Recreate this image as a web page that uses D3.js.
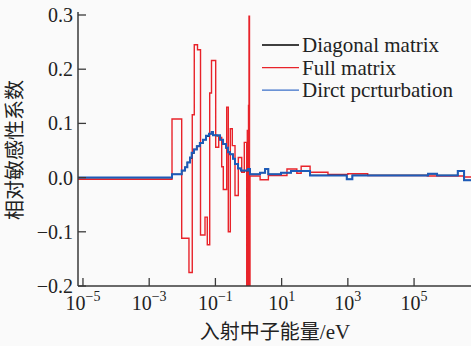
<!DOCTYPE html>
<html><head><meta charset="utf-8">
<script src="https://cdn.jsdelivr.net/npm/d3@7"></script>
<style>
html,body{margin:0;padding:0;background:#fafafa;}
svg{display:block;}
</style></head>
<body><svg id="c" width="471" height="346"></svg>
<script>
// ---- data (bin edges in eV, per-bin relative sensitivity) ----
const xTickExps = [-5, -3, -1, 1, 3, 5];
const yTicks = [-0.2, -0.1, 0.0, 0.1, 0.2, 0.3];
const yTickLabels = ["−0.2", "−0.1", "0.0", "0.1", "0.2", "0.3"];
const legendNames = ["Diagonal matrix", "Full matrix", "Dirct pcrturbation"];

const redEdges = [7e-6, 4.89e-3, 9.59e-3, 1.59e-2, 2.0e-2, 2.3e-2, 2.88e-2, 3.55e-2, 4.85e-2, 5.69e-2,
  6.73e-2, 7.62e-2, 0.102, 0.126, 0.155, 0.173, 0.219, 0.245, 0.282, 0.324,
  0.391, 0.492, 0.624, 0.746, 0.883, 0.92, 0.96, 1.0, 1.035, 1.07,
  1.11, 2.24, 3.98, 14.5, 28.8, 38.9, 72.4, 251, 1000, 3980,
  2.51e4, 2.51e5, 3.16e6, 5.62e6];
const redValues = [-0.003, 0.108, -0.112, -0.175, 0.116, 0.245, 0.236, -0.106, -0.073, -0.124,
  0.156, 0.216, 0.056, 0.074, 0.02, -0.022, 0.13, -0.1, 0.09, 0.059,
  -0.033, 0.037, 0.01, 0.065, -0.2, 0.087, -0.2, 0.133, 0.298, -0.2,
  0.003, -0.004, 0.004, 0.016, 0.008, 0.021, 0.01, 0.006, 0.007, 0.004,
  0.004, 0.003, 0.001];

const blueEdges = [7e-6, 4.89e-3, 9.59e-3, 1.21e-2, 1.42e-2, 1.71e-2, 1.92e-2, 2.25e-2, 2.75e-2, 3.39e-2,
  4.22e-2, 5.2e-2, 6.41e-2, 7.73e-2, 8.45e-2, 0.112, 0.138, 0.17, 0.209, 0.24,
  0.276, 0.34, 0.391, 0.482, 0.593, 0.783, 0.966, 1.11, 2.23, 3.16,
  3.96, 9.59, 19.2, 72.1, 927, 1370, 2.65e5, 4.95e5, 2.09e6, 3.24e6, 5.62e6];
const blueValues = [0.0, 0.006, 0.013, 0.019, 0.028, 0.037, 0.046, 0.052, 0.058, 0.064,
  0.07, 0.077, 0.081, 0.084, 0.078, 0.078, 0.07, 0.062, 0.055, 0.047,
  0.043, 0.035, 0.025, 0.017, 0.013, 0.013, 0.016, 0.006, 0.009, 0.016,
  0.006, 0.009, 0.012, 0.004, -0.003, 0.004, 0.007, 0.004, 0.012, -0.005];
const blackValues = [0.0, 0.006, 0.013, 0.019, 0.028, 0.036, 0.045, 0.052, 0.058, 0.064,
  0.07, 0.076, 0.081, 0.083, 0.078, 0.077, 0.07, 0.062, 0.055, 0.047,
  0.043, 0.035, 0.025, 0.017, 0.013, 0.013, 0.015, 0.006, 0.009, 0.015,
  0.006, 0.009, 0.012, 0.004, -0.003, 0.004, 0.007, 0.004, 0.012, -0.005];

// ---- layout ----
const L = 78, R = 472, T = 15, B = 286;
const serif = "'Liberation Serif','Times New Roman',serif";
const cjk = "'Noto Sans CJK SC','Noto Sans CJK JP',sans-serif";
const RED = "#e8232a", BLUE = "#1d5bb8", AX = "#3a3a3a";

const svg = d3.select("#c");
svg.append("rect").attr("width", 471).attr("height", 346).attr("fill", "#fafafa");

const x = d3.scaleLog().domain([7.08e-6, 5.62e6]).range([L, R]);
const y = d3.scaleLinear().domain([-0.2, 0.3]).range([B, T]);

svg.append("defs").append("clipPath").attr("id", "clip")
  .append("rect").attr("x", L).attr("y", T - 2).attr("width", R - L).attr("height", B - T + 2);

function stepPoints(edges, vals) {
  const pts = vals.map((v, i) => [edges[i], v]);
  pts.push([edges[edges.length - 1], vals[vals.length - 1]]);
  return pts;
}
const line = d3.line().x(d => x(d[0])).y(d => y(d[1])).curve(d3.curveStepAfter);

const g = svg.append("g").attr("clip-path", "url(#clip)");
g.append("path").datum(stepPoints(redEdges, redValues)).attr("d", line)
  .attr("fill", "none").attr("stroke", RED).attr("stroke-width", 1.4);
g.append("path").datum(stepPoints(blueEdges, blackValues)).attr("d", line)
  .attr("fill", "none").attr("stroke", "#000").attr("stroke-width", 1.2);
g.append("path").datum(stepPoints(blueEdges, blueValues)).attr("d", line)
  .attr("fill", "none").attr("stroke", BLUE).attr("stroke-width", 2);

// ---- axes ----
svg.append("line").attr("x1", L).attr("x2", L).attr("y1", T - 3).attr("y2", B).attr("stroke", AX).attr("stroke-width", 1.5);
svg.append("line").attr("x1", L).attr("x2", R).attr("y1", B).attr("y2", B).attr("stroke", AX).attr("stroke-width", 1.5);

yTicks.forEach((t, i) => {
  svg.append("line").attr("x1", L).attr("x2", L + 8).attr("y1", y(t)).attr("y2", y(t))
    .attr("stroke", AX).attr("stroke-width", 1.3);
  svg.append("text").attr("x", L - 5).attr("y", y(t) + 7).attr("text-anchor", "end")
    .attr("font-family", serif).attr("font-size", 20).attr("fill", "#222").text(yTickLabels[i]);
});

xTickExps.forEach(e => {
  const xp = x(Math.pow(10, e));
  svg.append("line").attr("x1", xp).attr("x2", xp).attr("y1", B).attr("y2", B - 8)
    .attr("stroke", AX).attr("stroke-width", 1.3);
  const txt = svg.append("text").attr("x", xp).attr("y", 310).attr("text-anchor", "middle")
    .attr("font-family", serif).attr("font-size", 20).attr("fill", "#222");
  txt.append("tspan").text("10");
  txt.append("tspan").attr("dy", -9).attr("font-size", 14).text(e < 0 ? "−" + (-e) : String(e));
});

// ---- axis titles ----
svg.append("text").attr("transform", "translate(22,150) rotate(-90)").attr("text-anchor", "middle")
  .attr("font-family", cjk).attr("font-size", 20).attr("fill", "#222").text("相对敏感性系数");
const xt = svg.append("text").attr("x", 275).attr("y", 339).attr("text-anchor", "middle")
  .attr("fill", "#222").attr("font-size", 20);
xt.append("tspan").attr("font-family", cjk).text("入射中子能量");
xt.append("tspan").attr("font-family", serif).attr("font-size", 21).text("/eV");

// ---- legend ----
const legColors = ["#000", RED, "#3a6fc8"];
legendNames.forEach((n, i) => {
  const ly = 45 + i * 22.6;
  svg.append("line").attr("x1", 262).attr("x2", 299).attr("y1", ly).attr("y2", ly)
    .attr("stroke", legColors[i]).attr("stroke-width", 1.3);
  svg.append("text").attr("x", 302).attr("y", ly + 7).attr("font-family", serif)
    .attr("font-size", 21).attr("fill", "#222").text(n);
});
</script></body></html>
